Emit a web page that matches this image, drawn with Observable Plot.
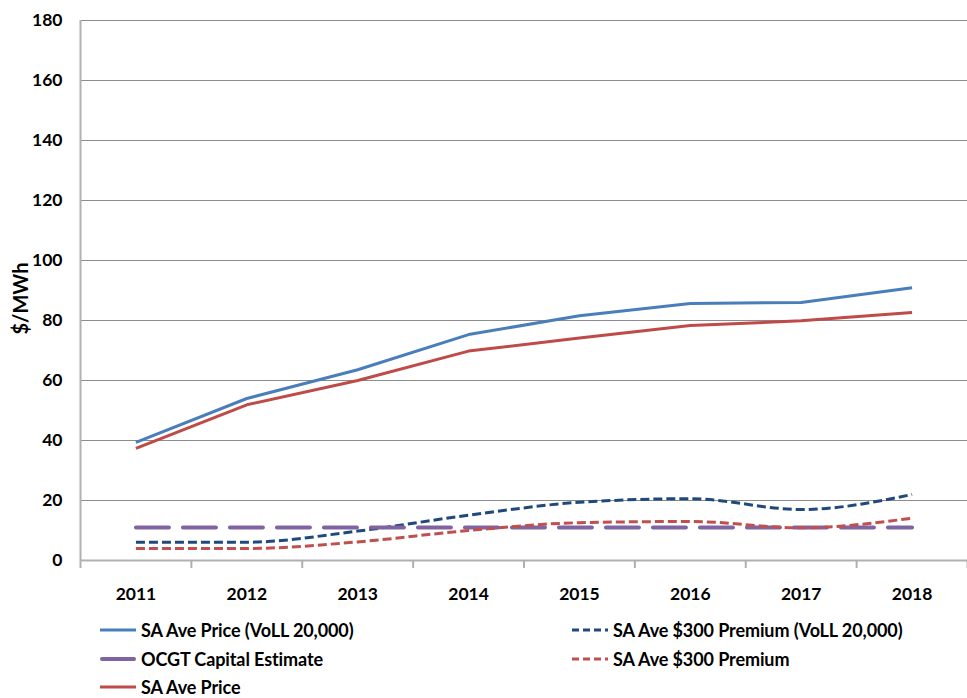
<!DOCTYPE html>
<html>
<head>
<meta charset="utf-8">
<script src="https://cdn.jsdelivr.net/npm/d3@7"></script>
<script src="https://cdn.jsdelivr.net/npm/@observablehq/plot@0.6"></script>
<style>
  body { margin: 0; background: #fff; font-family: Lato, "Open Sans", sans-serif; }
  #wrap { position: relative; width: 967px; height: 698px; overflow: hidden; }
  .legend { position: absolute; font: bold 18px Lato, sans-serif; line-height: 20px; color: #000; display: flex; align-items: center; letter-spacing: -0.1px; white-space: nowrap; }
  .legend svg { margin-right: 5px; }
</style>
</head>
<body>
<div id="wrap"></div>
<script>
const years = [2011, 2012, 2013, 2014, 2015, 2016, 2017, 2018];
const saAvePriceVoll = [39.4, 54.0, 63.6, 75.3, 81.6, 85.7, 86.0, 90.9];
const saAvePrice = [37.4, 51.9, 60.0, 69.8, 74.2, 78.3, 79.9, 82.7];
const sa300PremiumVoll = [6.1, 6.1, 9.8, 15.1, 19.4, 20.6, 17.0, 22.0];
const sa300Premium = [4.0, 4.0, 6.2, 10.0, 12.6, 13.0, 10.9, 14.1];
const ocgtCapital = [11, 11, 11, 11, 11, 11, 11, 11];
const yTicks = [0, 20, 40, 60, 80, 100, 120, 140, 160, 180];

const series = [
  {name: "SA Ave Price (VoLL 20,000)", values: saAvePriceVoll, color: "#4a7ebb", width: 3, dash: null, curve: "linear", cap: "butt"},
  {name: "SA Ave $300 Premium (VoLL 20,000)", values: sa300PremiumVoll, color: "#1f497d", width: 3, dash: "9,4", curve: "monotone-x", cap: "butt"},
  {name: "OCGT Capital Estimate", values: ocgtCapital, color: "#8064a2", width: 4, dash: "33,14", curve: "linear", cap: "round"},
  {name: "SA Ave $300 Premium", values: sa300Premium, color: "#c0504d", width: 3, dash: "9,4", curve: "monotone-x", cap: "butt"},
  {name: "SA Ave Price", values: saAvePrice, color: "#be4b48", width: 3, dash: null, curve: "linear", cap: "butt"}
];

const boundaries = [years[0] - 0.5, ...years.map(y => y + 0.5)];
const gridTicks = yTicks.filter(v => v > 0);

const lineMarks = [];
for (const s of series) {
  const data = years.map((yr, i) => ({year: yr, value: s.values[i]}));
  lineMarks.push(Plot.line(data, {
    x: "year", y: "value", stroke: s.color, strokeWidth: s.width,
    strokeDasharray: s.dash || undefined, curve: s.curve,
    strokeLinecap: s.cap, strokeLinejoin: "round"
  }));
}

const chart = Plot.plot({
  width: 967,
  height: 615,
  marginTop: 20,
  marginBottom: 55,
  marginLeft: 80,
  marginRight: 0,
  style: {fontFamily: "Lato, sans-serif", fontSize: "17.5px", fontWeight: "bold", background: "white", color: "#000"},
  x: {type: "linear", domain: [boundaries[0], boundaries[boundaries.length - 1]], axis: null},
  y: {type: "linear", domain: [0, 180], axis: null},
  marks: [
    Plot.ruleY(gridTicks, {stroke: "#8c8c8c", strokeWidth: 1}),
    Plot.ruleX(boundaries, {x: d => d, y1: 0, y2: 0, insetTop: 8, stroke: "#b0b0b0", strokeWidth: 2}),
    Plot.ruleX([boundaries[0]], {stroke: "#b0b0b0", strokeWidth: 2}),
    Plot.ruleY([0], {stroke: "#b0b0b0", strokeWidth: 2}),
    Plot.axisY(yTicks, {tickSize: 0, tickPadding: 18, fontWeight: "bold", fontSize: 17.5, label: null}),
    Plot.axisX(years, {tickSize: 0, tickPadding: 27, fontWeight: "bold", fontSize: 17.5, label: null, tickFormat: d => String(d)}),
    Plot.text(["$/MWh"], {frameAnchor: "left", textAnchor: "middle", dx: -59, dy: 8, rotate: -90, fontWeight: "bold", fontSize: 20}),
    ...lineMarks
  ]
});

document.getElementById("wrap").appendChild(chart);

const legendItems = [
  {s: series[0], x: 100, y: 630},
  {s: series[1], x: 572, y: 630},
  {s: series[2], x: 100, y: 659},
  {s: series[3], x: 572, y: 659},
  {s: series[4], x: 100, y: 687}
];
for (const it of legendItems) {
  const div = document.createElement("div");
  div.className = "legend";
  div.style.left = it.x + "px";
  div.style.top = (it.y - 10) + "px";
  div.style.height = "20px";
  const sw = d3.create("svg").attr("width", 36).attr("height", 10);
  const dash = it.s.dash ? (it.s.name === "OCGT Capital Estimate" ? null : "7,4") : null;
  sw.append("line").attr("x1", it.s.cap === "round" ? 2 : 0).attr("x2", it.s.cap === "round" ? 34 : 36)
    .attr("y1", 5).attr("y2", 5)
    .attr("stroke", it.s.color).attr("stroke-width", it.s.width)
    .attr("stroke-linecap", it.s.cap)
    .attr("stroke-dasharray", dash);
  div.appendChild(sw.node());
  const span = document.createElement("span");
  span.textContent = it.s.name;
  div.appendChild(span);
  document.getElementById("wrap").appendChild(div);
}
</script>
</body>
</html>
